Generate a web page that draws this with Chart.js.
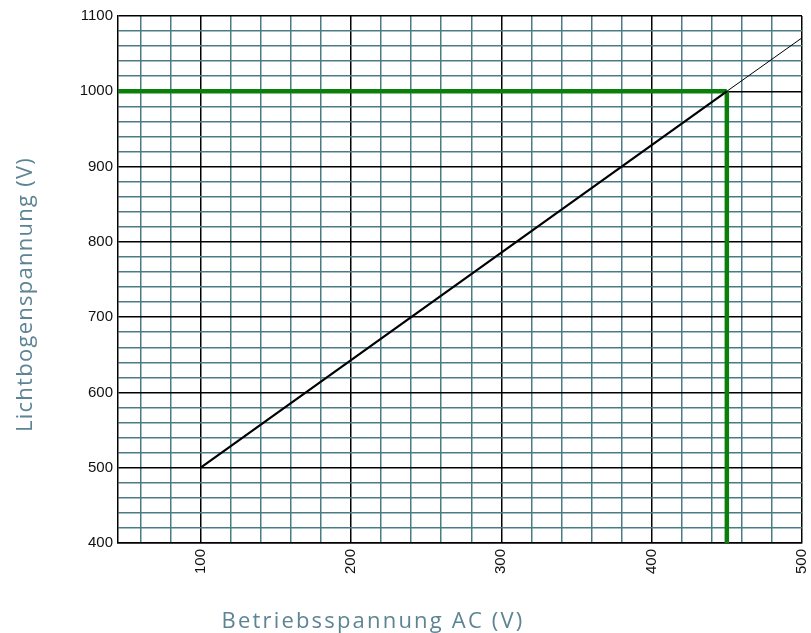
<!DOCTYPE html>
<html>
<head>
<meta charset="utf-8">
<script src="https://cdn.jsdelivr.net/npm/chart.js@4.4.0/dist/chart.umd.min.js"></script>
<style>
  html, body { margin: 0; padding: 0; background: #fff; }
  #chart { display: block; }
</style>
</head>
<body>
<canvas id="chart" width="811" height="633"></canvas>
<script>
// axis ranges and tick labels
const xMin = 45, xMax = 500;
const yMin = 400, yMax = 1100;
const xMajorTicks = [100, 200, 300, 400, 500];
const yMajorTicks = [400, 500, 600, 700, 800, 900, 1000, 1100];
const minorStep = 20;

// characteristic line (thick part, then thin continuation)
const lineX = [100, 450];
const lineY = [500, 1000];
const extX = [450, 500];
const extY = [1000, 1071];

// marked operating point
const markX = 450;
const markY = 1000;

const xTitle = "Betriebsspannung AC (V)";
const yTitle = "Lichtbogenspannung (V)";

const MINOR = "#4b7c86";
const MAJOR = "#000000";
const GREEN = "#0a800a";
const TITLE = "#5d8494";

function gridValues(min, max) {
  const vals = [];
  for (let v = Math.ceil(min / minorStep) * minorStep; v <= max; v += minorStep) vals.push(v);
  return vals;
}

function toPoints(xs, ys) {
  return xs.map((x, i) => ({ x: x, y: ys[i] }));
}

const axisTitles = {
  id: "axisTitles",
  afterDraw(chart) {
    const ctx = chart.ctx;
    ctx.save();
    ctx.fillStyle = TITLE;
    ctx.textAlign = "center";
    ctx.textBaseline = "alphabetic";

    // spread each title to the width it has in the reference
    function fitFont(text, width) {
      ctx.font = "22px 'Open Sans'";
      ctx.letterSpacing = "0px";
      const w = ctx.measureText(text).width;
      ctx.letterSpacing = Math.max(0, (width - w) / text.length).toFixed(2) + "px";
    }

    fitFont(xTitle, 303);
    ctx.fillText(xTitle, 373, 628);

    fitFont(yTitle, 275);
    ctx.translate(32, 294.5);
    ctx.rotate(-Math.PI / 2);
    ctx.fillText(yTitle, 0, 0);
    ctx.restore();
  }
};

const gridColor = c => (c.tick && c.tick.value % 100 === 0) ? MAJOR : MINOR;

new Chart(document.getElementById("chart"), {
  type: "line",
  data: {
    datasets: [
      { data: toPoints(lineX, lineY), borderColor: "#000", borderWidth: 2.2 },
      { data: toPoints(extX, extY), borderColor: "#000", borderWidth: 1 },
      { data: toPoints([xMin, markX], [markY, markY]), borderColor: GREEN, borderWidth: 4.5 },
      { data: toPoints([markX, markX], [markY, yMin]), borderColor: GREEN, borderWidth: 4.5 }
    ]
  },
  options: {
    responsive: false,
    animation: false,
    events: [],
    layout: { padding: { left: 0, right: 9, top: 16, bottom: 0 } },
    elements: { point: { radius: 0 }, line: { tension: 0, borderCapStyle: "butt" } },
    plugins: { legend: { display: false }, tooltip: { enabled: false } },
    scales: {
      x: {
        type: "linear",
        min: xMin,
        max: xMax,
        afterBuildTicks: s => { s.ticks = gridValues(xMin, xMax).map(v => ({ value: v })); },
        afterFit: s => { s.height = 90; s.paddingLeft = 0; s.paddingRight = 0; },
        grid: { color: gridColor, lineWidth: 1.5, drawTicks: false },
        border: { color: MAJOR, width: 1.5 },
        ticks: {
          autoSkip: false,
          minRotation: 90,
          maxRotation: 90,
          padding: 6,
          color: "#111",
          font: { family: "'Liberation Sans', Arial", size: 15 },
          callback: v => xMajorTicks.includes(v) ? String(v) : ""
        }
      },
      y: {
        type: "linear",
        min: yMin,
        max: yMax,
        afterBuildTicks: s => { s.ticks = gridValues(yMin, yMax).map(v => ({ value: v })); },
        afterFit: s => { s.width = 118; s.paddingTop = 0; s.paddingBottom = 0; },
        grid: { color: gridColor, lineWidth: 1.5, drawTicks: false },
        border: { color: MAJOR, width: 1.5 },
        ticks: {
          autoSkip: false,
          padding: 5,
          color: "#111",
          font: { family: "'Liberation Sans', Arial", size: 15 },
          callback: v => yMajorTicks.includes(v) ? String(v) : ""
        }
      }
    }
  },
  plugins: [axisTitles]
});
</script>
</body>
</html>
